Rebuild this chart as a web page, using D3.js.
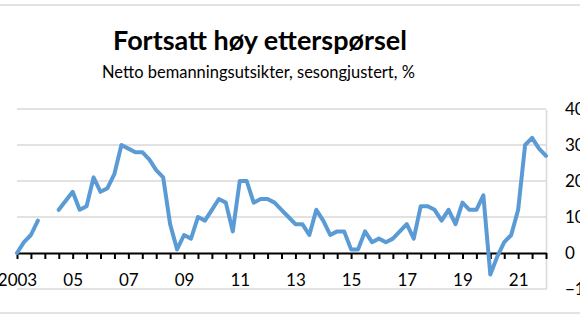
<!DOCTYPE html>
<html><head><meta charset="utf-8">
<script src="https://cdn.jsdelivr.net/npm/d3@7"></script>
<style>body{margin:0;background:#fff}svg{display:block}text{font-family:Lato,"Open Sans",sans-serif}</style>
</head><body>
<script>
const title = "Fortsatt høy etterspørsel";
const subtitle = "Netto bemanningsutsikter, sesongjustert, %";
// Quarterly categories 2003K1 .. 2022K1
const quarters = [];
for (let y = 2003; y <= 2022; y++) for (let q = 1; q <= 4; q++) if (quarters.length < 77) quarters.push(y + "K" + q);
const values = [0,3,5,9,null,null,12,14.5,17,12,13,21,17,18,22,30,29,28,28,26,23,21,8,1,5,4,10,9,12,15,14,6,20,20,14,15,15,14,12,10,8,8,5,12,9,5,6,6,1,1,6,3,4,3,4,6,8,4,13,13,12,9,12,8,14,12,12,16,-6,-1,3,5,12,30,32,29,27];
const xTickLabels = ["2003","05","07","09","11","13","15","17","19","21"];
const yTicks = [40,30,20,10,0,-10];

const W = 580, H = 326;
const svg = d3.select("body").append("svg").attr("width", W).attr("height", H);

const x = d3.scaleLinear().domain([0, quarters.length - 1]).range([17, 546]);
const y = d3.scaleLinear().domain([-10, 40]).range([289, 109]);

// frame lines
svg.append("line").attr("x1",0).attr("x2",W).attr("y1",5).attr("y2",5).attr("stroke","#d9d9d9").attr("stroke-width",1.5);
svg.append("line").attr("x1",0).attr("x2",W).attr("y1",313).attr("y2",313).attr("stroke","#d9d9d9").attr("stroke-width",1.5);

// title
function fit(sel, target) {
  const len = sel.node().getComputedTextLength();
  const fs = parseFloat(sel.attr("font-size"));
  sel.attr("font-size", fs * target / len);
}
const t = svg.append("text").attr("x", 260).attr("y", 50).attr("text-anchor","middle")
  .attr("font-size", 24).attr("font-weight","bold").attr("fill","#000").text(title);
fit(t, 294);
const st = svg.append("text").attr("x", 258.5).attr("y", 78).attr("text-anchor","middle")
  .attr("font-size", 15).attr("fill","#000").text(subtitle);
fit(st, 313);

// gridlines
svg.append("g").selectAll("line").data(yTicks.filter(d => d !== 0)).join("line")
  .attr("x1", x(0)).attr("x2", x(quarters.length - 1))
  .attr("y1", d => y(d)).attr("y2", d => y(d))
  .attr("stroke", "#d9d9d9").attr("stroke-width", 1.5);

// right value axis (light grey line + labels)
const yAxis = d3.axisRight(y).tickValues(yTicks).tickSize(0).tickPadding(19).tickFormat(d3.format("d"));
const ya = svg.append("g").attr("transform", `translate(${x(quarters.length - 1)},0)`).call(yAxis);
ya.select(".domain").attr("stroke","#d9d9d9").attr("stroke-width",1.5);
ya.selectAll("text").attr("font-size", 17).attr("fill","#000").attr("font-family","Lato");

// category axis at zero
const tickIdx = d3.range(0, quarters.length, 2);
const xAxis = d3.axisBottom(x).tickValues(tickIdx).tickSize(6).tickSizeOuter(0)
  .tickFormat(i => i % 8 === 0 ? xTickLabels[i / 8] : "");
const xa = svg.append("g").attr("transform", `translate(0,${y(0)})`).call(xAxis);
xa.select(".domain").attr("stroke","#000").attr("stroke-width",2);
xa.selectAll(".tick line").attr("stroke","#000").attr("stroke-width",2);
xa.selectAll("text").attr("font-size", 17).attr("fill","#000").attr("font-family","Lato").attr("dy", "0").attr("y", 33);

// line
const line = d3.line().defined(d => d != null).x((d, i) => x(i)).y(d => y(d));
svg.append("path").datum(values).attr("d", line).attr("fill","none")
  .attr("stroke","#5b9bd5").attr("stroke-width",4).attr("stroke-linejoin","round").attr("stroke-linecap","round");
</script>
</body></html>
